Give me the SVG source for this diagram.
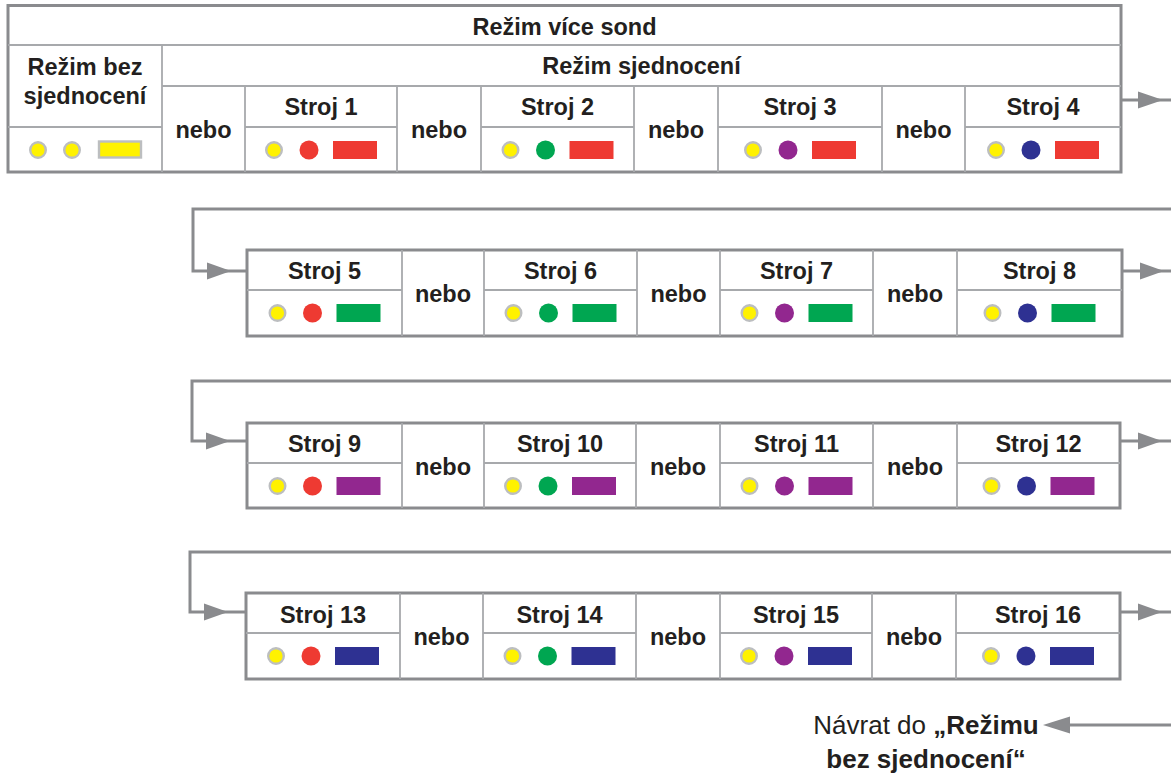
<svg xmlns="http://www.w3.org/2000/svg" width="1171" height="780" viewBox="0 0 1171 780">
<style>
  .outer{fill:#fff;stroke:#8a8b8e;stroke-width:3}
  .in{stroke:#a7a9ac;stroke-width:1.8;fill:none}
  .t{font-family:"Liberation Sans",Arial,sans-serif;font-weight:bold;font-size:23.5px;fill:#231f20;text-anchor:middle}
  .b{font-family:"Liberation Sans",Arial,sans-serif;font-size:26px;fill:#231f20;text-anchor:middle}
  .y{fill:#fff200;stroke:#bcbec0;stroke-width:2.4}
  .red{fill:#ee3a32}.grn{fill:#00a651}.pur{fill:#92278f}.blu{fill:#2e3192}
  .con{stroke:#8a8b8e;stroke-width:3;fill:none}
  .ah{fill:#8a8b8e}
</style>

<g id="connectors">
  <line class="con" x1="1121" y1="100" x2="1171" y2="100"/>
  <polygon class="ah" points="1138,91.5 1163,100 1138,108.5"/>
  <polyline class="con" points="1171,209 193,209 193,271 247,271"/>
  <polygon class="ah" points="207,262.5 231,271 207,279.5"/>
  <line class="con" x1="1122" y1="271" x2="1171" y2="271"/>
  <polygon class="ah" points="1140,262.5 1164,271 1140,279.5"/>
  <polyline class="con" points="1171,381 192,381 192,441 247,441"/>
  <polygon class="ah" points="206,432.5 230,441 206,449.5"/>
  <line class="con" x1="1120" y1="441" x2="1171" y2="441"/>
  <polygon class="ah" points="1138,432.5 1162,441 1138,449.5"/>
  <polyline class="con" points="1171,552 190,552 190,612 246,612"/>
  <polygon class="ah" points="204,603.5 228,612 204,620.5"/>
  <line class="con" x1="1120" y1="612" x2="1171" y2="612"/>
  <polygon class="ah" points="1138,603.5 1162,612 1138,620.5"/>
  <line class="con" x1="1171" y1="725" x2="1065" y2="725"/>
  <polygon class="ah" points="1070,716.5 1043,725 1070,733.5"/>
</g>

<g id="row1">
  <rect class="outer" x="8" y="5.5" width="1113" height="166.5"/>
  <line class="in" x1="8" y1="45" x2="1121" y2="45"/>
  <line class="in" x1="162" y1="86" x2="1121" y2="86"/>
  <line class="in" x1="162" y1="45" x2="162" y2="172"/>
  <line class="in" x1="8" y1="127" x2="162" y2="127"/>
  <g class="in">
    <line x1="245" y1="86" x2="245" y2="172"/>
    <line x1="397" y1="86" x2="397" y2="172"/>
    <line x1="481" y1="86" x2="481" y2="172"/>
    <line x1="634" y1="86" x2="634" y2="172"/>
    <line x1="718" y1="86" x2="718" y2="172"/>
    <line x1="882" y1="86" x2="882" y2="172"/>
    <line x1="965" y1="86" x2="965" y2="172"/>
    <line x1="245" y1="127" x2="397" y2="127"/>
    <line x1="481" y1="127" x2="634" y2="127"/>
    <line x1="718" y1="127" x2="882" y2="127"/>
    <line x1="965" y1="127" x2="1121" y2="127"/>
  </g>
  <text class="t" x="564.5" y="35">Režim více sond</text>
  <text class="t" x="641.5" y="74">Režim sjednocení</text>
</g>

<g id="rezim-bez">
  <text class="t" x="85" y="75">Režim bez</text>
  <text class="t" x="85" y="104">sjednocení</text>
  <circle class="y" cx="38" cy="150" r="7.8"/>
  <circle class="y" cx="72" cy="150" r="7.8"/>
  <rect class="y" x="99" y="141.5" width="42" height="16"/>
</g>

<g id="nebo-r1" class="t">
  <text x="203.5" y="138">nebo</text>
  <text x="439" y="138">nebo</text>
  <text x="676" y="138">nebo</text>
  <text x="923.5" y="138">nebo</text>
</g>

<g id="stroj1"><text class="t" x="321" y="115">Stroj 1</text><circle class="y" cx="274" cy="150" r="7.8"/><circle class="red" cx="309" cy="150" r="9.5"/><rect class="red" x="333" y="141" width="44" height="18"/></g>
<g id="stroj2"><text class="t" x="557.5" y="115">Stroj 2</text><circle class="y" cx="510.5" cy="150" r="7.8"/><circle class="grn" cx="545.5" cy="150" r="9.5"/><rect class="red" x="569.5" y="141" width="44" height="18"/></g>
<g id="stroj3"><text class="t" x="800" y="115">Stroj 3</text><circle class="y" cx="753" cy="150" r="7.8"/><circle class="pur" cx="788" cy="150" r="9.5"/><rect class="red" x="812" y="141" width="44" height="18"/></g>
<g id="stroj4"><text class="t" x="1043" y="115">Stroj 4</text><circle class="y" cx="996" cy="150" r="7.8"/><circle class="blu" cx="1031" cy="150" r="9.5"/><rect class="red" x="1055" y="141" width="44" height="18"/></g>

<g id="row2">
  <rect class="outer" x="247" y="250" width="875" height="86"/>
  <g class="in">
    <line x1="402" y1="250" x2="402" y2="336"/><line x1="484" y1="250" x2="484" y2="336"/>
    <line x1="637" y1="250" x2="637" y2="336"/><line x1="720" y1="250" x2="720" y2="336"/>
    <line x1="873" y1="250" x2="873" y2="336"/><line x1="957" y1="250" x2="957" y2="336"/>
    <line x1="247" y1="290" x2="402" y2="290"/><line x1="484" y1="290" x2="637" y2="290"/>
    <line x1="720" y1="290" x2="873" y2="290"/><line x1="957" y1="290" x2="1122" y2="290"/>
  </g>
  <g class="t"><text x="443" y="301.5">nebo</text><text x="678.5" y="301.5">nebo</text><text x="915" y="301.5">nebo</text></g>
</g>
<g id="stroj5"><text class="t" x="324.5" y="279">Stroj 5</text><circle class="y" cx="277.5" cy="313" r="7.8"/><circle class="red" cx="312.5" cy="313" r="9.5"/><rect class="grn" x="336.5" y="304" width="44" height="18"/></g>
<g id="stroj6"><text class="t" x="560.5" y="279">Stroj 6</text><circle class="y" cx="513.5" cy="313" r="7.8"/><circle class="grn" cx="548.5" cy="313" r="9.5"/><rect class="grn" x="572.5" y="304" width="44" height="18"/></g>
<g id="stroj7"><text class="t" x="796.5" y="279">Stroj 7</text><circle class="y" cx="749.5" cy="313" r="7.8"/><circle class="pur" cx="784.5" cy="313" r="9.5"/><rect class="grn" x="808.5" y="304" width="44" height="18"/></g>
<g id="stroj8"><text class="t" x="1039.5" y="279">Stroj 8</text><circle class="y" cx="992.5" cy="313" r="7.8"/><circle class="blu" cx="1027.5" cy="313" r="9.5"/><rect class="grn" x="1051.5" y="304" width="44" height="18"/></g>

<g id="row3">
  <rect class="outer" x="247" y="423" width="873" height="85"/>
  <g class="in">
    <line x1="402" y1="423" x2="402" y2="508"/><line x1="484" y1="423" x2="484" y2="508"/>
    <line x1="636" y1="423" x2="636" y2="508"/><line x1="720" y1="423" x2="720" y2="508"/>
    <line x1="873" y1="423" x2="873" y2="508"/><line x1="957" y1="423" x2="957" y2="508"/>
    <line x1="247" y1="463" x2="402" y2="463"/><line x1="484" y1="463" x2="636" y2="463"/>
    <line x1="720" y1="463" x2="873" y2="463"/><line x1="957" y1="463" x2="1120" y2="463"/>
  </g>
  <g class="t"><text x="443" y="474.5">nebo</text><text x="678" y="474.5">nebo</text><text x="915" y="474.5">nebo</text></g>
</g>
<g id="stroj9"><text class="t" x="324.5" y="452">Stroj 9</text><circle class="y" cx="277.5" cy="486" r="7.8"/><circle class="red" cx="312.5" cy="486" r="9.5"/><rect class="pur" x="336.5" y="477" width="44" height="18"/></g>
<g id="stroj10"><text class="t" x="560" y="452">Stroj 10</text><circle class="y" cx="513" cy="486" r="7.8"/><circle class="grn" cx="548" cy="486" r="9.5"/><rect class="pur" x="572" y="477" width="44" height="18"/></g>
<g id="stroj11"><text class="t" x="796.5" y="452">Stroj 11</text><circle class="y" cx="749.5" cy="486" r="7.8"/><circle class="pur" cx="784.5" cy="486" r="9.5"/><rect class="pur" x="808.5" y="477" width="44" height="18"/></g>
<g id="stroj12"><text class="t" x="1038.5" y="452">Stroj 12</text><circle class="y" cx="991.5" cy="486" r="7.8"/><circle class="blu" cx="1026.5" cy="486" r="9.5"/><rect class="pur" x="1050.5" y="477" width="44" height="18"/></g>

<g id="row4">
  <rect class="outer" x="246" y="593" width="874" height="86"/>
  <g class="in">
    <line x1="400" y1="593" x2="400" y2="679"/><line x1="483" y1="593" x2="483" y2="679"/>
    <line x1="636" y1="593" x2="636" y2="679"/><line x1="720" y1="593" x2="720" y2="679"/>
    <line x1="872" y1="593" x2="872" y2="679"/><line x1="956" y1="593" x2="956" y2="679"/>
    <line x1="246" y1="633" x2="400" y2="633"/><line x1="483" y1="633" x2="636" y2="633"/>
    <line x1="720" y1="633" x2="872" y2="633"/><line x1="956" y1="633" x2="1120" y2="633"/>
  </g>
  <g class="t"><text x="441.5" y="645">nebo</text><text x="678" y="645">nebo</text><text x="914" y="645">nebo</text></g>
</g>
<g id="stroj13"><text class="t" x="323" y="623">Stroj 13</text><circle class="y" cx="276" cy="656" r="7.8"/><circle class="red" cx="311" cy="656" r="9.5"/><rect class="blu" x="335" y="647" width="44" height="18"/></g>
<g id="stroj14"><text class="t" x="559.5" y="623">Stroj 14</text><circle class="y" cx="512.5" cy="656" r="7.8"/><circle class="grn" cx="547.5" cy="656" r="9.5"/><rect class="blu" x="571.5" y="647" width="44" height="18"/></g>
<g id="stroj15"><text class="t" x="796" y="623">Stroj 15</text><circle class="y" cx="749" cy="656" r="7.8"/><circle class="pur" cx="784" cy="656" r="9.5"/><rect class="blu" x="808" y="647" width="44" height="18"/></g>
<g id="stroj16"><text class="t" x="1038" y="623">Stroj 16</text><circle class="y" cx="991" cy="656" r="7.8"/><circle class="blu" cx="1026" cy="656" r="9.5"/><rect class="blu" x="1050" y="647" width="44" height="18"/></g>

<g id="navrat">
  <text class="b" x="926" y="734">Návrat do <tspan font-weight="bold">„Režimu</tspan></text>
  <text class="b" x="926" y="768" font-weight="bold">bez sjednocení“</text>
</g>
</svg>
